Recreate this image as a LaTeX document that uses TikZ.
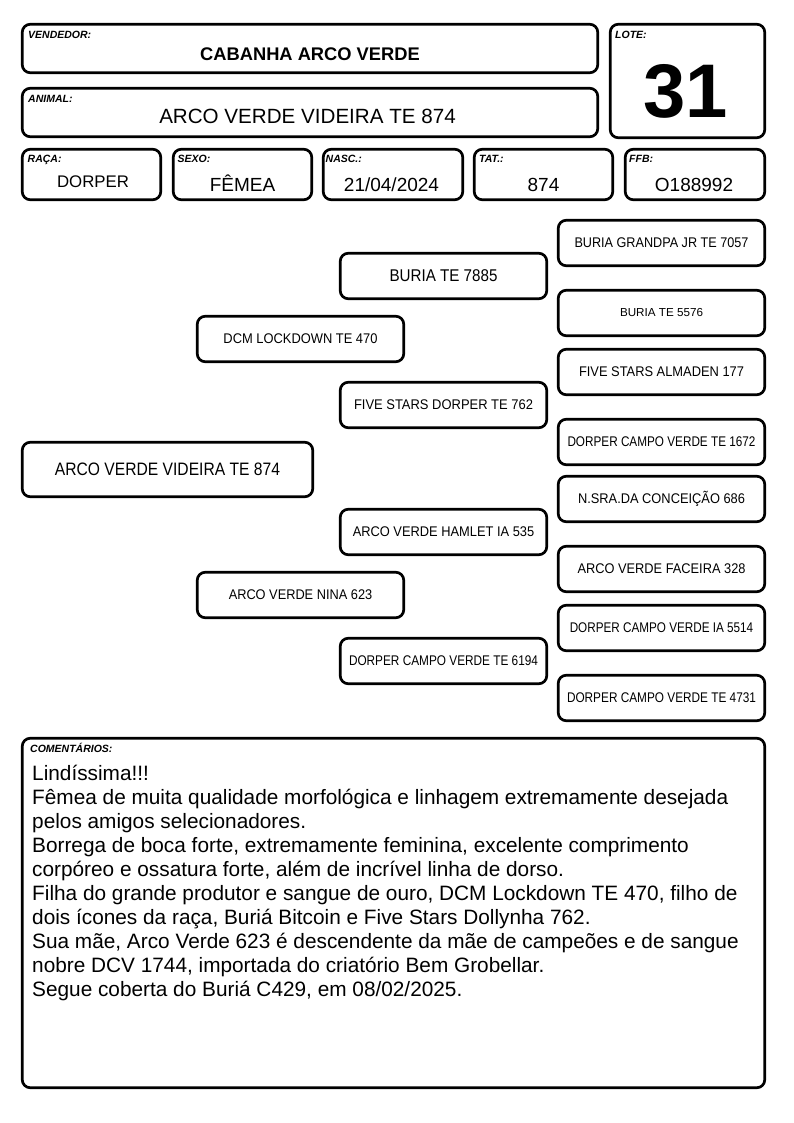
\documentclass[tikz,border=0pt]{standalone}
\usepackage{fontspec}
\setmainfont{Liberation Sans}
\usepackage{graphicx}
\newcommand\fitw[2]{\resizebox{#1pt}{\height}{#2}}
\newcommand\fsz[1]{\fontsize{#1}{#1}\selectfont}
\tikzset{
  x=1pt, y=-1pt,
  box/.style={draw, line width=2.7pt, rounded corners=8pt, inner sep=0pt},
  pbox/.style={box, minimum width=206.5pt, minimum height=45.5pt},
  lbl/.style={anchor=base west, inner sep=0pt, font=\fsz{10.5}\bfseries\itshape},
  val/.style={anchor=base, inner sep=0pt},
}
\begin{document}
\begin{tikzpicture}
\useasboundingbox (0,0) rectangle (794,1123);
% header boxes
\node[box, minimum width=575.5pt, minimum height=48.5pt] (vend) at (310,48.5) {};
\node[box, minimum width=575.5pt, minimum height=48.5pt] (anim) at (310,112.5) {};
\node[box, minimum width=154.5pt, minimum height=113.5pt] (lote) at (687.5,81) {};
\node[box, minimum width=138.5pt, minimum height=50.5pt] (raca) at (91.5,174.5) {};
\node[box, minimum width=138.5pt, minimum height=50.5pt] (sexo) at (242.5,174.5) {};
\node[box, minimum width=139.5pt, minimum height=50.5pt] (nasc) at (393,174.5) {};
\node[box, minimum width=138.5pt, minimum height=50.5pt] (tat) at (543.5,174.5) {};
\node[box, minimum width=139.5pt, minimum height=50.5pt] (ffb) at (695,174.5) {};
% labels
\node[lbl] (lvend) at (28,39) {VENDEDOR:};
\node[lbl] (lanim) at (28,103) {ANIMAL:};
\node[lbl] (llote) at (615,39) {LOTE:};
\node[lbl] (lraca) at (27.5,163) {RAÇA:};
\node[lbl] (lsexo) at (177.5,163) {SEXO:};
\node[lbl] (lnasc) at (325.5,163) {NASC.:};
\node[lbl] (ltat) at (479,163) {TAT.:};
\node[lbl] (lffb) at (629,163) {FFB:};
% values
\node[val, font=\fsz{18.3}\bfseries] (vvend) at (310,60.5) {CABANHA ARCO VERDE};
\node[val, font=\fsz{20.6}] (vanim) at (307.5,124) {ARCO VERDE VIDEIRA TE 874};
\node[val, font=\fsz{76}\bfseries] (vlote) at (686,118) {31};
\node[val, font=\fsz{16.8}] (vraca) at (93,188) {DORPER};
\node[val, font=\fsz{19}] (vsexo) at (242.5,192) {FÊMEA};
\node[val, font=\fsz{19}] (vnasc) at (391.5,192) {21/04/2024};
\node[val, font=\fsz{19}] (vtat) at (543.5,192) {874};
\node[val, font=\fsz{19}] (vffb) at (694,192) {O188992};
% pedigree
\node[box, minimum width=290.5pt, minimum height=54.5pt, font=\fsz{18}] (p0) at (167.5,469.5) {\fitw{225}{ARCO VERDE VIDEIRA TE 874}};
\node[pbox, font=\fsz{14}] (l1) at (300.5,339) {\fitw{154}{DCM LOCKDOWN TE 470}};
\node[pbox, font=\fsz{14}] (l2) at (300.5,595) {\fitw{143.5}{ARCO VERDE NINA 623}};
\node[pbox, font=\fsz{17}] (m1) at (443.5,276) {\fitw{108}{BURIA TE 7885}};
\node[pbox, font=\fsz{14}] (m2) at (443.5,405) {\fitw{179}{FIVE STARS DORPER TE 762}};
\node[pbox, font=\fsz{14}] (m3) at (443.5,532) {\fitw{181.5}{ARCO VERDE HAMLET IA 535}};
\node[pbox, font=\fsz{14}] (m4) at (443.5,661) {\fitw{189}{DORPER CAMPO VERDE TE 6194}};
\node[pbox, font=\fsz{14}] (r1) at (661.5,243) {\fitw{174}{BURIA GRANDPA JR TE 7057}};
\node[pbox, font=\fsz{11.6}] (r2) at (661.5,313) {\fitw{83}{BURIA TE 5576}};
\node[pbox, font=\fsz{14}] (r3) at (661.5,372) {\fitw{165}{FIVE STARS ALMADEN 177}};
\node[pbox, font=\fsz{14}] (r4) at (661.5,442) {\fitw{188}{DORPER CAMPO VERDE TE 1672}};
\node[pbox, font=\fsz{14}] (r5) at (661.5,499) {\fitw{167}{N.SRA.DA CONCEIÇÃO 686}};
\node[pbox, font=\fsz{14}] (r6) at (661.5,569) {\fitw{168}{ARCO VERDE FACEIRA 328}};
\node[pbox, font=\fsz{14}] (r7) at (661.5,628) {\fitw{183.5}{DORPER CAMPO VERDE IA 5514}};
\node[pbox, font=\fsz{14}] (r8) at (661.5,698) {\fitw{189}{DORPER CAMPO VERDE TE 4731}};
% comments
\node[box, minimum width=742.5pt, minimum height=349.5pt] (com) at (393.5,913) {};
\node[lbl] (lcom) at (30,752.5) {COMENTÁRIOS:};
\node[anchor=north west, inner sep=0pt, align=left, font={\fontsize{20.8}{24}\selectfont}] (tcom) at (32,765) {Lindíssima!!!\\
Fêmea de muita qualidade morfológica e linhagem extremamente desejada\\
pelos amigos selecionadores.\\
Borrega de boca forte, extremamente feminina, excelente comprimento\\
corpóreo e ossatura forte, além de incrível linha de dorso.\\
Filha do grande produtor e sangue de ouro, DCM Lockdown TE 470, filho de\\
dois ícones da raça, Buriá Bitcoin e Five Stars Dollynha 762.\\
Sua mãe, Arco Verde 623 é descendente da mãe de campeões e de sangue\\
nobre DCV 1744, importada do criatório Bem Grobellar.\\
Segue coberta do Buriá C429, em 08/02/2025.};
\end{tikzpicture}
\end{document}
